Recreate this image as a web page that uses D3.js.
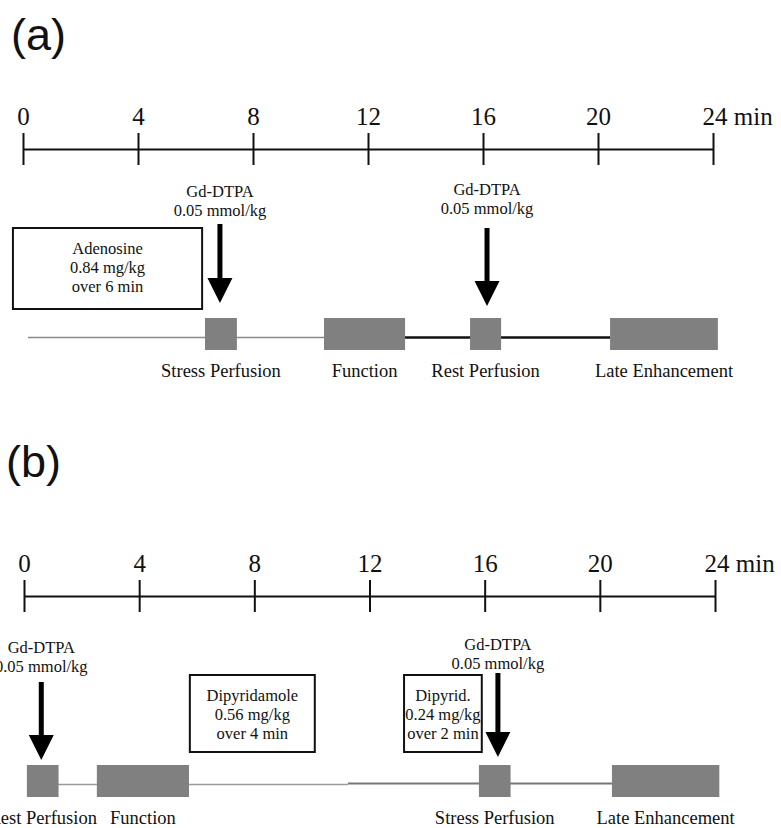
<!DOCTYPE html>
<html>
<head>
<meta charset="utf-8">
<script src="https://cdn.jsdelivr.net/npm/d3@7.9.0/dist/d3.min.js"></script>
<style>
  body { margin: 0; background: #fff; }
  svg { display: block; }
</style>
</head>
<body>
<svg></svg>
<script>
// time axis (minutes)
const ticks = [0, 4, 8, 12, 16, 20, 24];
const gdText = ["Gd-DTPA", "0.05 mmol/kg"];

// (a) adenosine protocol
const blocksA = [
    { name: "Stress Perfusion", start: 6.33, end: 7.44 },
    { name: "Function", start: 10.47, end: 13.29 },
    { name: "Rest Perfusion", start: 15.55, end: 16.63 },
    { name: "Late Enhancement", start: 20.42, end: 24.17 }
];
const injectionsA = [6.85, 16.14];
const drugsA = [
    { lines: ["Adenosine", "0.84 mg/kg", "over 6 min"], start: -0.35, end: 6.23 }
];
const lineA = [[0.17, 10.47], [10.47, 20.42]];

// (b) dipyridamole protocol
const blocksB = [
    { name: "Rest Perfusion", start: 0.1, end: 1.2 },
    { name: "Function", start: 2.53, end: 5.73 },
    { name: "Stress Perfusion", start: 15.8, end: 16.9 },
    { name: "Late Enhancement", start: 20.42, end: 24.15 }
];
const injectionsB = [0.6, 16.46];
const drugsB = [
    { lines: ["Dipyridamole", "0.56 mg/kg", "over 4 min"], start: 5.76, end: 10.1 },
    { lines: ["Dipyrid.", "0.24 mg/kg", "over 2 min"], start: 13.2, end: 15.9 }
];
const lineB = [[0.1, 11.25], [11.25, 20.42]];

const serif = "'Liberation Serif', 'Times New Roman', serif";
const ink = "#111";

const svg = d3.select("svg")
    .attr("width", 781)
    .attr("height", 828);

// layout per panel, offsets relative to the axis line
const panels = [
    { label: "(a)", labelX: 11, labelY: 50, axisY: 149, range: [23, 713],
      blocks: blocksA, injections: injectionsA, drugs: drugsA, line: lineA,
      gdY: [48, 46], arrowTop: [75, 79], arrowTip: [154, 157], drugBottom: 160,
      lineStyle: [{ stroke: "#8a8a8a", width: 1.5 }, { stroke: "#111", width: 2.5 }] },
    { label: "(b)", labelX: 6, labelY: 477, axisY: 596, range: [24, 715],
      blocks: blocksB, injections: injectionsB, drugs: drugsB, line: lineB,
      gdY: [57, 54], arrowTop: [86, 77], arrowTip: [164, 161], drugBottom: 156,
      lineStyle: [{ stroke: "#9a9a9a", width: 1.5, dy: 0 }, { stroke: "#777", width: 2, dy: -1 }] }
];

panels.forEach(function(p) {
    const x = d3.scaleLinear().domain([0, 24]).range(p.range);

    svg.append("text")
        .attr("x", p.labelX)
        .attr("y", p.labelY)
        .attr("font-family", "'Liberation Sans', Arial, sans-serif")
        .attr("font-size", 45)
        .attr("fill", ink)
        .text(p.label);

    const g = svg.append("g")
        .attr("transform", `translate(0,${p.axisY})`);

    // time axis with ticks crossing the line
    const axis = d3.axisTop(x)
        .tickValues(ticks)
        .tickSizeInner(16)
        .tickSizeOuter(0)
        .tickFormat(d => d === 24 ? "24 min" : d);

    const ax = g.append("g").call(axis);
    ax.select(".domain").attr("stroke", ink).attr("stroke-width", 2);
    ax.selectAll(".tick line")
        .attr("y1", 16).attr("y2", -16)
        .attr("stroke", ink).attr("stroke-width", 2);
    ax.selectAll(".tick text")
        .attr("y", -24).attr("dy", 0)
        .attr("font-family", serif)
        .attr("font-size", 25)
        .attr("fill", ink);
    ax.selectAll(".tick text")
        .filter(d => d === 24)
        .attr("text-anchor", "start")
        .attr("x", -11);
    ax.attr("font-family", null).attr("font-size", null);

    // timeline line
    g.selectAll(".seg")
        .data(p.line)
        .enter().append("line")
        .attr("class", "seg")
        .attr("x1", d => x(d[0]))
        .attr("x2", d => x(d[1]))
        .attr("y1", (d, i) => 188.5 + (p.lineStyle[i].dy || 0))
        .attr("y2", (d, i) => 188.5 + (p.lineStyle[i].dy || 0))
        .attr("stroke", (d, i) => p.lineStyle[i].stroke)
        .attr("stroke-width", (d, i) => p.lineStyle[i].width);

    // acquisition blocks
    g.selectAll(".block")
        .data(p.blocks)
        .enter().append("rect")
        .attr("class", "block")
        .attr("x", d => x(d.start))
        .attr("width", d => x(d.end) - x(d.start))
        .attr("y", 169)
        .attr("height", 32)
        .attr("fill", "#808080");

    g.selectAll(".block-label")
        .data(p.blocks)
        .enter().append("text")
        .attr("class", "block-label")
        .attr("x", d => (x(d.start) + x(d.end)) / 2)
        .attr("y", 228)
        .attr("text-anchor", "middle")
        .attr("font-family", serif)
        .attr("font-size", 18.5)
        .attr("fill", ink)
        .text(d => d.name);

    // stress agent boxes
    const drug = g.selectAll(".drug")
        .data(p.drugs)
        .enter().append("g")
        .attr("class", "drug");

    drug.append("rect")
        .attr("x", d => x(d.start))
        .attr("width", d => x(d.end) - x(d.start))
        .attr("y", 79)
        .attr("height", p.drugBottom - 79)
        .attr("fill", "none")
        .attr("stroke", ink)
        .attr("stroke-width", 2);

    drug.selectAll("text")
        .data(d => d.lines.map(t => ({ t: t, cx: (x(d.start) + x(d.end)) / 2 })))
        .enter().append("text")
        .attr("x", d => d.cx)
        .attr("y", (d, i) => 105 + i * 19)
        .attr("text-anchor", "middle")
        .attr("font-family", serif)
        .attr("font-size", 16.5)
        .attr("fill", ink)
        .text(d => d.t);

    // contrast injections
    p.injections.forEach(function(t, i) {
        const cx = x(t);
        gdText.forEach(function(s, j) {
            g.append("text")
                .attr("x", cx)
                .attr("y", p.gdY[i] + j * 19)
                .attr("text-anchor", "middle")
                .attr("font-family", serif)
                .attr("font-size", 16.5)
                .attr("fill", ink)
                .text(s);
        });
        const top = p.arrowTop[i], tip = p.arrowTip[i], head = tip - 25;
        g.append("path")
            .attr("d", `M${cx - 2.5},${top}L${cx + 2.5},${top}L${cx + 2.5},${head}` +
                `L${cx + 12.5},${head}L${cx},${tip}L${cx - 12.5},${head}L${cx - 2.5},${head}Z`)
            .attr("fill", "#000");
    });
});
</script>
</body>
</html>
